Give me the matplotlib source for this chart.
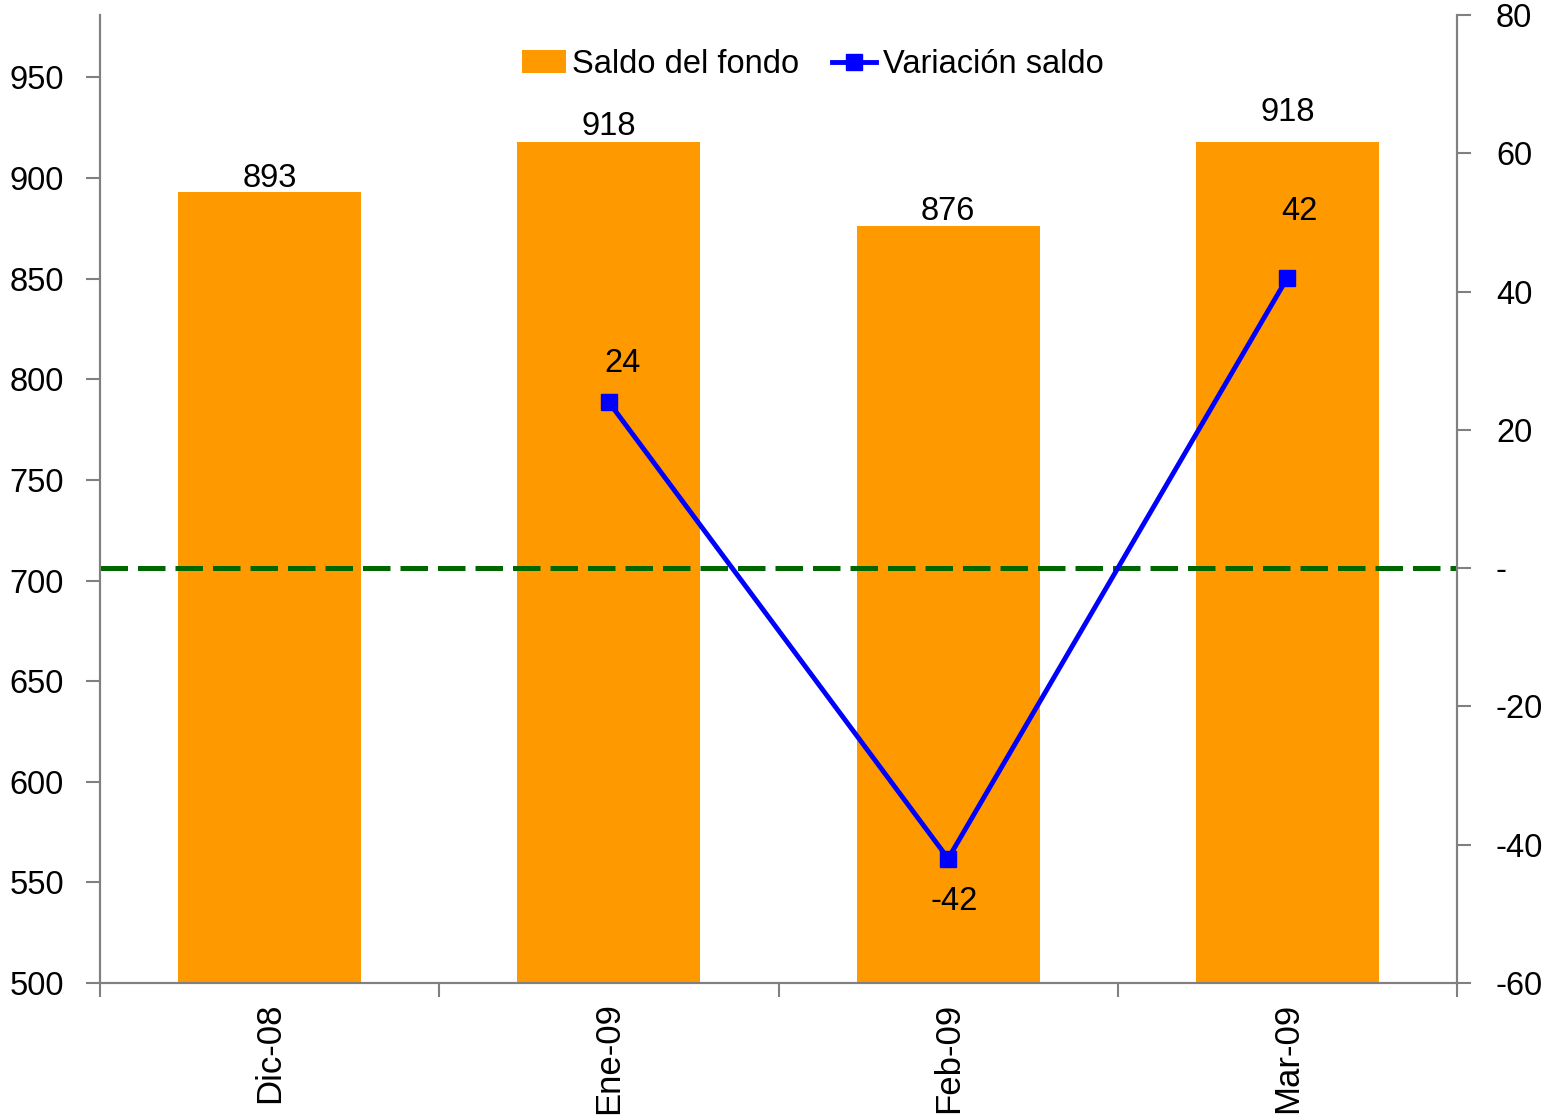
import matplotlib.pyplot as plt
from matplotlib.ticker import FuncFormatter

plt.rcParams['font.family'] = ['Liberation Sans', 'DejaVu Sans']

meses = ['Dic-08', 'Ene-09', 'Feb-09', 'Mar-09']
saldo = [893, 918, 876, 918]
variacion = [None, 24, -42, 42]

# offsets (pt) de las etiquetas
off_saldo = [(0, 10), (0, 11), (0, 11), (0, 21)]
off_var = [None, (10, 28), (4, -31), (9, 48)]

naranja = '#FF9900'
azul = '#0000FF'
gris = '#808080'
fs = 23.5

fig = plt.figure(figsize=(15.43, 11.18), dpi=100)
ax = fig.add_axes([0.0648, 0.1207, 0.8795, 0.8659])
x = list(range(len(meses)))

barras = ax.bar(x, saldo, width=0.54, color=naranja, label='Saldo del fondo', zorder=2)
ax.set_ylim(500, 981)
ax.set_xlim(-0.5, 3.5)
ax.set_yticks(range(500, 951, 50))
for i, v in enumerate(saldo):
    ax.annotate(str(v), (x[i], v), xytext=off_saldo[i], textcoords='offset points',
                ha='center', va='center', fontsize=fs)

ax.set_xticks(x)
ax.set_xticklabels(meses, rotation=90, fontsize=25)
ax.set_xticks([-0.5, 0.5, 1.5, 2.5, 3.5], minor=True)
ax.tick_params(axis='x', which='major', length=0, pad=14)
ax.tick_params(axis='x', which='minor', length=10, color=gris, width=1.5, direction='out')
ax.tick_params(axis='y', labelsize=fs, length=10, color=gris, width=1.5, pad=16)

ax2 = ax.twinx()
ax2.set_ylim(-60, 80)
ax2.set_yticks(range(-60, 81, 20))
ax2.yaxis.set_major_formatter(FuncFormatter(lambda v, p: '-' if v == 0 else '%d' % v))
ax2.tick_params(axis='y', labelsize=fs, length=10, color=gris, width=1.5, pad=18)
ax2.axhline(0, color='#006600', lw=3.6, ls=(0, (5.5, 2)), zorder=1)
xs = x[1:]
ys = variacion[1:]
linea, = ax2.plot(xs, ys, color=azul, lw=3.5, marker='s', markersize=11,
                  label='Variación saldo', zorder=3)
for i in range(1, len(meses)):
    ax2.annotate(str(variacion[i]), (x[i], variacion[i]), xytext=off_var[i],
                 textcoords='offset points', ha='center', va='center', fontsize=fs)

for a in (ax, ax2):
    a.spines['top'].set_visible(False)
    for s in ('left', 'right', 'bottom'):
        a.spines[s].set_color(gris)
        a.spines[s].set_linewidth(1.5)

leg = ax.legend([barras, linea], ['Saldo del fondo', 'Variación saldo'], loc='upper center',
                bbox_to_anchor=(0.525, 0.995), ncol=2, frameon=False, fontsize=fs,
                handlelength=1.35, handletextpad=0.2, columnspacing=1.0)

fig.savefig('out.png', dpi=100)
